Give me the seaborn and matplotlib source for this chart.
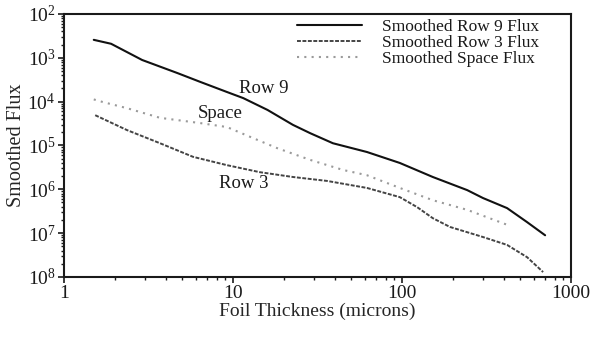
import numpy as np
import pandas as pd
import matplotlib
matplotlib.use("Agg")
import matplotlib.pyplot as plt
import seaborn as sns
from matplotlib.ticker import FixedLocator, FixedFormatter, LogLocator, NullFormatter

# ---- data (flux = 10**-exponent) ----
row9_x = [1.5, 1.9, 2.9, 4.7, 6.4, 9.2, 11.5, 16, 22.6, 28.6, 39, 62, 97, 152, 243, 301, 418, 549, 702]
row9_exp = [2.59, 2.68, 3.05, 3.35, 3.55, 3.78, 3.92, 4.19, 4.53, 4.72, 4.95, 5.15, 5.40, 5.72, 6.02, 6.20, 6.43, 6.75, 7.05]

row3_x = [1.53, 2.36, 3.7, 5.8, 9.2, 14.4, 22.6, 36, 62, 97, 123, 152, 192, 301, 418, 549, 683]
row3_exp = [4.31, 4.65, 4.95, 5.26, 5.45, 5.61, 5.72, 5.81, 5.97, 6.18, 6.41, 6.66, 6.86, 7.09, 7.27, 7.55, 7.89]

space_x = [1.5, 1.7, 2.36, 3.7, 6.4, 9.2, 13.1, 18.2, 28.6, 44.8, 62, 97, 152, 243, 418]
space_exp = [3.95, 4.01, 4.15, 4.37, 4.49, 4.58, 4.83, 5.06, 5.33, 5.56, 5.68, 5.97, 6.25, 6.47, 6.81]

series_names = ["Smoothed Row 9 Flux", "Smoothed Row 3 Flux", "Smoothed Space Flux"]
curve_labels = ["Row 9", "Row 3", "Space"]
ytick_exps = [2, 3, 4, 5, 6, 7, 8]
xtick_vals = [1, 10, 100, 1000]
xtick_labels = ["1", "10", "100", "1000"]

frames = []
for name, xs, es in zip(series_names, [row9_x, row3_x, space_x], [row9_exp, row3_exp, space_exp]):
    frames.append(pd.DataFrame({"thickness": xs, "flux": [10.0 ** (-e) for e in es], "series": name}))
df = pd.concat(frames, ignore_index=True)

sns.set_theme(style="ticks")
plt.rcParams["font.family"] = ["Liberation Serif", "DejaVu Serif"]
plt.rcParams["mathtext.fontset"] = "custom"
plt.rcParams["mathtext.rm"] = "Liberation Serif"
plt.rcParams["mathtext.it"] = "Liberation Serif"
plt.rcParams["text.color"] = "#1a1a1a"

fig = plt.figure(figsize=(5.98, 3.41), dpi=100)
ax = fig.add_axes([0.107, 0.188, 0.848, 0.771])

styles = {
    "Smoothed Row 9 Flux": dict(color="#111111", lw=1.5, ls="-"),
    "Smoothed Row 3 Flux": dict(color="#444444", lw=1.4, ls=(0, (2.0, 0.8))),
    "Smoothed Space Flux": dict(color="#9a9a9a", lw=1.5, ls=(0, (1.0, 2.5))),
}
for name in series_names:
    sub = df[df["series"] == name]
    sns.lineplot(data=sub, x="thickness", y="flux", ax=ax, label=name,
                 color=styles[name]["color"], linewidth=styles[name]["lw"],
                 linestyle=styles[name]["ls"], estimator=None, sort=False)

ax.set_xscale("log")
ax.set_yscale("log")
ax.set_xlim(1, 1000)
ax.set_ylim(1e-8, 1e-2)

ax.yaxis.set_major_locator(FixedLocator([10.0 ** (-k) for k in ytick_exps]))
ax.yaxis.set_major_formatter(FixedFormatter([r"$\mathregular{10^{%d}}$" % k for k in ytick_exps]))
ax.yaxis.set_minor_locator(LogLocator(base=10, subs=np.arange(2, 10), numticks=20))
ax.yaxis.set_minor_formatter(NullFormatter())
ax.xaxis.set_major_locator(FixedLocator(xtick_vals))
ax.xaxis.set_major_formatter(FixedFormatter(xtick_labels))
ax.xaxis.set_minor_locator(LogLocator(base=10, subs=np.arange(2, 10), numticks=20))
ax.xaxis.set_minor_formatter(NullFormatter())

ax.tick_params(axis="both", which="major", labelsize=14, length=4, width=1.2, direction="out", colors="#1a1a1a", pad=2)
ax.tick_params(axis="both", which="minor", length=2.5, width=1.0, direction="out", colors="#1a1a1a")
for s in ax.spines.values():
    s.set_linewidth(1.5)
    s.set_color("#1a1a1a")

ax.set_xlabel("Foil Thickness (microns)", fontsize=14, labelpad=0)
ax.set_ylabel("Smoothed Flux", fontsize=14.5, labelpad=1)

label_pos = [(15.1, 3.69), (11.6, 5.86), (8.4, 4.26)]
for txt, (lx, le) in zip(curve_labels, label_pos):
    ax.text(lx, 10 ** (-le), txt, fontsize=13.5, ha="center", va="center")

leg = ax.legend(loc="upper left", bbox_to_anchor=(0.459, 0.982), frameon=False, fontsize=12.5,
                handlelength=3.75, handletextpad=1.15, borderaxespad=0.0, labelspacing=0.0,
                borderpad=0.0)

fig.savefig("out.png", dpi=100)
